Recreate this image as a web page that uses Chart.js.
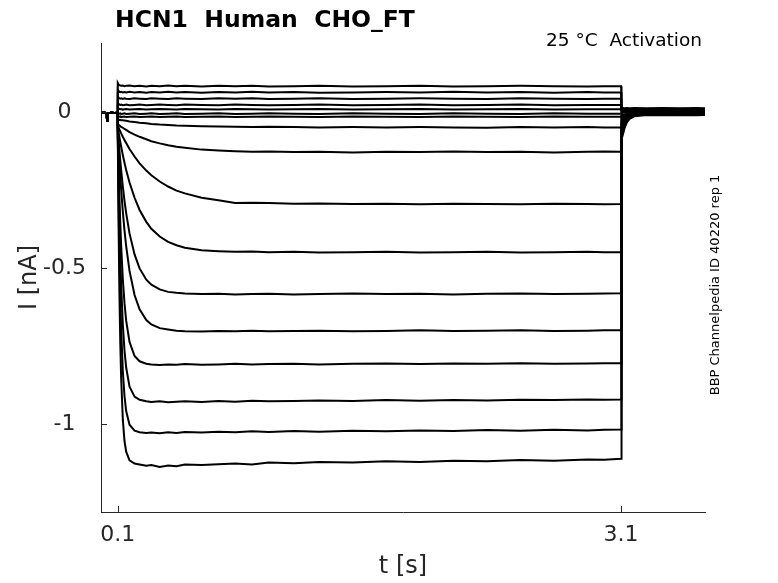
<!DOCTYPE html>
<html>
<head>
<meta charset="utf-8">
<script src="https://cdn.jsdelivr.net/npm/chart.js@4.4.1/dist/chart.umd.min.js"></script>
<style>
html,body{margin:0;padding:0;background:#fff;}
#wrap{width:778px;height:583px;}
</style>
</head>
<body>
<div id="wrap"><canvas id="c" width="778" height="583"></canvas></div>
<script>
// ---- data (time in s, current in nA) ----
const xTicks = [0.1, 3.1];
const yTicks = [-1, -0.5, 0];

const tHold = [0, 0.02, 0.034, 0.036, 0.038, 0.06, 0.08, 0.1];
const iHold = [-0.004, -0.003, -0.004, -0.028, -0.005, -0.003, -0.004, -0.003];

const tStep = [0.1, 0.105, 0.11, 0.115, 0.12, 0.13, 0.14, 0.15, 0.17, 0.2, 0.23, 0.27, 0.3, 0.35, 0.4, 0.45, 0.5, 0.6, 0.7, 0.8, 0.9, 1.0, 1.15, 1.3, 1.5, 1.7, 1.9, 2.1, 2.3, 2.5, 2.7, 2.9, 3.0, 3.1];

const step1 = [0.092, 0.087, 0.085, 0.084, 0.083, 0.084, 0.082, 0.083, 0.084, 0.082, 0.083, 0.081, 0.083, 0.082, 0.084, 0.082, 0.083, 0.081, 0.083, 0.082, 0.083, 0.081, 0.082, 0.083, 0.081, 0.082, 0.083, 0.081, 0.082, 0.083, 0.082, 0.081, 0.082, 0.082];
const step2 = [0.07, 0.066, 0.064, 0.063, 0.064, 0.062, 0.063, 0.062, 0.064, 0.062, 0.063, 0.061, 0.063, 0.062, 0.064, 0.062, 0.063, 0.061, 0.063, 0.062, 0.064, 0.062, 0.063, 0.061, 0.062, 0.063, 0.062, 0.064, 0.062, 0.063, 0.061, 0.063, 0.062, 0.062];
const step3 = [0.05, 0.045, 0.043, 0.042, 0.043, 0.041, 0.043, 0.042, 0.041, 0.043, 0.042, 0.041, 0.043, 0.042, 0.041, 0.043, 0.042, 0.041, 0.043, 0.042, 0.043, 0.041, 0.042, 0.043, 0.041, 0.042, 0.043, 0.042, 0.041, 0.043, 0.042, 0.041, 0.042, 0.042];
const step4 = [0.03, 0.025, 0.023, 0.022, 0.023, 0.021, 0.022, 0.023, 0.021, 0.022, 0.023, 0.021, 0.022, 0.023, 0.022, 0.021, 0.023, 0.022, 0.021, 0.023, 0.022, 0.021, 0.022, 0.023, 0.021, 0.022, 0.023, 0.021, 0.022, 0.023, 0.021, 0.022, 0.022, 0.022];
const step5 = [0.014, 0.010, 0.009, 0.008, 0.009, 0.007, 0.008, 0.009, 0.007, 0.008, 0.009, 0.007, 0.008, 0.009, 0.008, 0.007, 0.009, 0.008, 0.007, 0.009, 0.008, 0.007, 0.008, 0.009, 0.007, 0.008, 0.009, 0.007, 0.008, 0.009, 0.007, 0.008, 0.008, 0.008];
const step6 = [-0.002, -0.005, -0.006, -0.005, -0.007, -0.006, -0.005, -0.007, -0.006, -0.005, -0.007, -0.006, -0.005, -0.007, -0.006, -0.005, -0.007, -0.006, -0.005, -0.007, -0.006, -0.005, -0.006, -0.007, -0.005, -0.006, -0.007, -0.005, -0.006, -0.007, -0.005, -0.006, -0.006, -0.006];
const step7 = [-0.012, -0.015, -0.016, -0.015, -0.017, -0.016, -0.015, -0.017, -0.016, -0.015, -0.017, -0.016, -0.015, -0.017, -0.016, -0.015, -0.017, -0.016, -0.015, -0.017, -0.016, -0.015, -0.016, -0.017, -0.015, -0.016, -0.017, -0.015, -0.016, -0.017, -0.015, -0.016, -0.016, -0.016];
const step8 = [-0.025, -0.025, -0.026, -0.026, -0.027, -0.027, -0.028, -0.029, -0.031, -0.033, -0.035, -0.037, -0.039, -0.041, -0.042, -0.044, -0.045, -0.046, -0.047, -0.048, -0.049, -0.048, -0.049, -0.050, -0.049, -0.050, -0.049, -0.050, -0.051, -0.049, -0.050, -0.049, -0.050, -0.050];
const step9 = [-0.04, -0.042, -0.044, -0.046, -0.048, -0.051, -0.055, -0.058, -0.065, -0.073, -0.080, -0.088, -0.094, -0.101, -0.107, -0.112, -0.115, -0.121, -0.124, -0.126, -0.128, -0.127, -0.129, -0.128, -0.130, -0.128, -0.129, -0.127, -0.129, -0.128, -0.130, -0.128, -0.127, -0.128];
const step10 = [-0.045, -0.051, -0.057, -0.063, -0.069, -0.080, -0.090, -0.100, -0.119, -0.143, -0.165, -0.188, -0.203, -0.223, -0.239, -0.252, -0.261, -0.275, -0.283, -0.292, -0.291, -0.292, -0.294, -0.293, -0.295, -0.294, -0.296, -0.294, -0.295, -0.296, -0.294, -0.295, -0.296, -0.295];
const step11 = [-0.05, -0.066, -0.082, -0.097, -0.111, -0.138, -0.163, -0.186, -0.226, -0.275, -0.314, -0.352, -0.374, -0.399, -0.416, -0.427, -0.435, -0.443, -0.446, -0.448, -0.447, -0.449, -0.448, -0.450, -0.449, -0.448, -0.450, -0.449, -0.448, -0.450, -0.449, -0.448, -0.449, -0.449];
const step12 = [-0.055, -0.091, -0.125, -0.157, -0.186, -0.239, -0.285, -0.324, -0.389, -0.456, -0.501, -0.537, -0.553, -0.568, -0.576, -0.579, -0.581, -0.583, -0.582, -0.584, -0.583, -0.582, -0.584, -0.583, -0.581, -0.583, -0.582, -0.584, -0.582, -0.581, -0.583, -0.582, -0.581, -0.580];
const step13 = [-0.06, -0.113, -0.161, -0.206, -0.247, -0.319, -0.379, -0.430, -0.509, -0.586, -0.632, -0.666, -0.680, -0.692, -0.696, -0.700, -0.702, -0.703, -0.701, -0.702, -0.700, -0.702, -0.701, -0.700, -0.702, -0.701, -0.699, -0.701, -0.700, -0.699, -0.701, -0.700, -0.699, -0.699];
const step14 = [-0.065, -0.179, -0.275, -0.357, -0.427, -0.535, -0.612, -0.668, -0.736, -0.781, -0.798, -0.806, -0.808, -0.810, -0.808, -0.809, -0.807, -0.809, -0.808, -0.806, -0.808, -0.807, -0.806, -0.808, -0.806, -0.805, -0.807, -0.805, -0.806, -0.804, -0.806, -0.805, -0.804, -0.804];
const step15 = [-0.07, -0.231, -0.362, -0.468, -0.553, -0.680, -0.763, -0.818, -0.879, -0.911, -0.921, -0.926, -0.928, -0.926, -0.929, -0.927, -0.926, -0.928, -0.925, -0.927, -0.924, -0.926, -0.925, -0.923, -0.925, -0.922, -0.924, -0.922, -0.923, -0.921, -0.922, -0.920, -0.921, -0.920];
const step16 = [-0.075, -0.294, -0.464, -0.594, -0.693, -0.829, -0.909, -0.957, -1.001, -1.020, -1.025, -1.027, -1.026, -1.028, -1.025, -1.027, -1.024, -1.026, -1.023, -1.025, -1.022, -1.024, -1.021, -1.023, -1.020, -1.022, -1.019, -1.021, -1.018, -1.020, -1.017, -1.019, -1.017, -1.016];
const step17 = [-0.08, -0.376, -0.589, -0.740, -0.849, -0.984, -1.053, -1.087, -1.115, -1.125, -1.128, -1.132, -1.130, -1.136, -1.131, -1.134, -1.128, -1.130, -1.127, -1.125, -1.128, -1.122, -1.124, -1.120, -1.122, -1.118, -1.120, -1.116, -1.118, -1.114, -1.116, -1.112, -1.113, -1.110];

const tTail = [3.1, 3.105, 3.11, 3.12, 3.135, 3.15, 3.18, 3.25, 3.35, 3.45, 3.55, 3.6];

const tail1 = [0.014, 0.012, 0.012, 0.011, 0.012, 0.011, 0.012, 0.011, 0.012, 0.011, 0.012, 0.011];
const tail2 = [0.011, 0.009, 0.009, 0.008, 0.009, 0.008, 0.009, 0.008, 0.009, 0.008, 0.009, 0.008];
const tail3 = [0.008, 0.006, 0.006, 0.005, 0.006, 0.005, 0.006, 0.005, 0.006, 0.005, 0.006, 0.005];
const tail4 = [0.005, 0.004, 0.003, 0.004, 0.003, 0.004, 0.003, 0.004, 0.003, 0.004, 0.003, 0.004];
const tail5 = [0.003, 0.002, 0.001, 0.002, 0.001, 0.002, 0.001, 0.002, 0.001, 0.002, 0.001, 0.002];
const tail6 = [0.001, 0.0, -0.001, 0.0, -0.001, 0.0, -0.001, 0.0, -0.001, 0.0, -0.001, 0.0];
const tail7 = [-0.003, -0.002, -0.003, -0.002, -0.003, -0.002, -0.003, -0.002, -0.003, -0.002, -0.003, -0.002];
const tail8 = [-0.015, -0.013, -0.011, -0.009, -0.007, -0.0055, -0.0045, -0.004, -0.005, -0.004, -0.005, -0.004];
const tail9 = [-0.025, -0.021, -0.018, -0.014, -0.010, -0.008, -0.006, -0.005, -0.006, -0.005, -0.006, -0.005];
const tail10 = [-0.035, -0.030, -0.025, -0.019, -0.013, -0.010, -0.007, -0.006, -0.007, -0.006, -0.007, -0.006];
const tail11 = [-0.045, -0.038, -0.032, -0.024, -0.016, -0.011, -0.008, -0.006, -0.007, -0.006, -0.007, -0.006];
const tail12 = [-0.055, -0.046, -0.039, -0.029, -0.019, -0.013, -0.009, -0.007, -0.008, -0.007, -0.008, -0.007];
const tail13 = [-0.065, -0.055, -0.046, -0.033, -0.021, -0.015, -0.009, -0.007, -0.008, -0.007, -0.008, -0.007];
const tail14 = [-0.075, -0.063, -0.053, -0.038, -0.025, -0.017, -0.011, -0.008, -0.009, -0.008, -0.009, -0.008];
const tail15 = [-0.085, -0.071, -0.060, -0.043, -0.027, -0.018, -0.011, -0.008, -0.009, -0.008, -0.009, -0.008];
const tail16 = [-0.095, -0.079, -0.067, -0.048, -0.030, -0.021, -0.013, -0.009, -0.010, -0.009, -0.010, -0.009];
const tail17 = [-0.105, -0.088, -0.074, -0.053, -0.033, -0.023, -0.014, -0.010, -0.011, -0.010, -0.011, -0.010];

const steps = [step1, step2, step3, step4, step5, step6, step7, step8, step9, step10, step11, step12, step13, step14, step15, step16, step17];
const tails = [tail1, tail2, tail3, tail4, tail5, tail6, tail7, tail8, tail9, tail10, tail11, tail12, tail13, tail14, tail15, tail16, tail17];

// ---- build datasets ----
function pts(ts, vs) { return ts.map((t, i) => ({x: t, y: vs[i]})); }
const datasets = steps.map((s, k) => ({
  data: pts(tHold, iHold).concat(pts(tStep, s), pts(tTail, tails[k])),
  borderColor: '#000',
  borderWidth: 2,
  pointRadius: 0,
  showLine: true,
  fill: false,
  tension: 0
}));

const FONT = 'DejaVu Sans';
const AX = '#262626';

const decor = {
  id: 'decor',
  afterDraw(chart) {
    const ctx = chart.ctx;
    const xs = chart.scales.x, ys = chart.scales.y;
    const a = chart.chartArea;
    ctx.save();
    // inward tick marks
    ctx.strokeStyle = AX;
    ctx.lineWidth = 1;
    ctx.beginPath();
    yTicks.forEach(v => {
      const y = Math.round(ys.getPixelForValue(v)) + 0.5;
      ctx.moveTo(a.left, y); ctx.lineTo(a.left + 6, y);
    });
    xTicks.forEach(v => {
      const x = Math.round(xs.getPixelForValue(v)) + 0.5;
      ctx.moveTo(x, a.bottom); ctx.lineTo(x, a.bottom - 6);
    });
    ctx.stroke();
    // title
    ctx.fillStyle = '#000';
    ctx.font = 'bold 23.5px "' + FONT + '"';
    ctx.textAlign = 'left';
    ctx.textBaseline = 'alphabetic';
    ctx.fillText('HCN1  Human  CHO_FT', 115, 27);
    // annotation
    ctx.font = '18.5px "' + FONT + '"';
    ctx.textAlign = 'right';
    ctx.fillText('25 °C  Activation', 702, 46);
    // axis titles
    ctx.fillStyle = AX;
    ctx.font = '24px "' + FONT + '"';
    ctx.textAlign = 'center';
    ctx.textBaseline = 'middle';
    ctx.fillText('t [s]', (a.left + a.right) / 2, 567);
    ctx.save();
    ctx.translate(30, (a.top + a.bottom) / 2);
    ctx.rotate(-Math.PI / 2);
    ctx.fillText('I [nA]', 0, 0);
    ctx.restore();
    // side label
    ctx.fillStyle = '#000';
    ctx.font = '13px "' + FONT + '"';
    ctx.save();
    ctx.translate(716, 285);
    ctx.rotate(-Math.PI / 2);
    ctx.fillText('BBP Channelpedia ID 40220 rep 1', 0, 0);
    ctx.restore();
    ctx.restore();
  }
};

new Chart(document.getElementById('c'), {
  type: 'scatter',
  data: { datasets },
  options: {
    responsive: false,
    animation: false,
    devicePixelRatio: 1,
    layout: { padding: { left: 40, right: 73, top: 43, bottom: 0 } },
    plugins: { legend: { display: false }, tooltip: { enabled: false }, title: { display: false } },
    scales: {
      x: {
        type: 'linear', min: 0, max: 3.6,
        afterFit(s) { s.height = 71; },
        afterBuildTicks(s) { s.ticks = xTicks.map(v => ({value: v})); },
        grid: { display: true, drawOnChartArea: false, drawTicks: false },
        border: { display: true, color: AX, width: 1 },
        ticks: { padding: 10, color: AX, font: { family: FONT, size: 22 }, maxRotation: 0, autoSkip: false,
                 callback: v => String(v) }
      },
      y: {
        type: 'linear', min: -1.28, max: 0.22,
        afterFit(s) { s.width = 61; },
        afterBuildTicks(s) { s.ticks = yTicks.map(v => ({value: v})); },
        grid: { display: true, drawOnChartArea: false, drawTicks: false },
        border: { display: true, color: AX, width: 1 },
        ticks: { padding: 15, crossAlign: 'center', color: AX, font: { family: FONT, size: 22 }, autoSkip: false,
                 callback: v => String(v) }
      }
    }
  },
  plugins: [decor]
});
</script>
</body>
</html>
